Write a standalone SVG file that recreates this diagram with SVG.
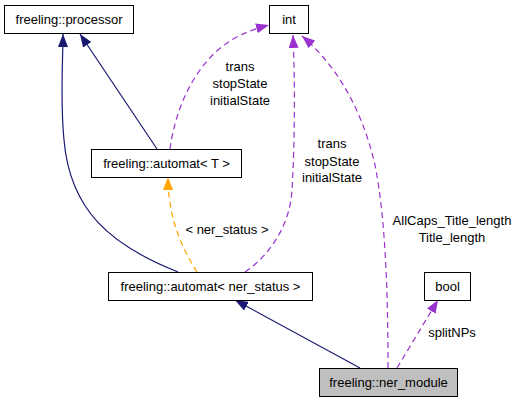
<svg xmlns="http://www.w3.org/2000/svg" width="519" height="403" viewBox="0 0 519 403">
<style>
.box{fill:#fff;stroke:#000;stroke-width:1}
text{font-family:"Liberation Sans",Arial,sans-serif;font-size:13px;fill:#000}
.c{text-anchor:middle}
.navy{fill:none;stroke:#191970;stroke-width:1.2}
.orange{fill:none;stroke:#ffa500;stroke-width:1.2;stroke-dasharray:6,4}
.purple{fill:none;stroke:#9a32cd;stroke-width:1.2;stroke-dasharray:6,4}
</style>
<defs>
<marker id="aN" markerUnits="userSpaceOnUse" markerWidth="13" markerHeight="10" refX="13" refY="5" orient="auto"><path d="M0,0 L13,5 L0,10 z" fill="#191970"/></marker>
<marker id="aO" markerUnits="userSpaceOnUse" markerWidth="13" markerHeight="10" refX="13" refY="5" orient="auto"><path d="M0,0 L13,5 L0,10 z" fill="#ffa500"/></marker>
<marker id="aP" markerUnits="userSpaceOnUse" markerWidth="13" markerHeight="10" refX="13" refY="5" orient="auto"><path d="M0,0 L13,5 L0,10 z" fill="#9a32cd"/></marker>
</defs>
<g id="connectors">
<path class="navy" d="M157,149 L80,34" marker-end="url(#aN)"/>
<path class="navy" d="M178,272 C110,245 70,210 64,140 C60,100 63,60 63,34" marker-end="url(#aN)"/>
<path class="orange" d="M197,272 C180,245 168,215 168,177" marker-end="url(#aO)"/>
<path class="purple" d="M170,149 C175,110 195,60 235,38 C248,31 258,28 269,25" marker-end="url(#aP)"/>
<path class="purple" d="M245,272 C270,255 290,225 292,190 C295,140 295,80 293,35" marker-end="url(#aP)"/>
<path class="purple" d="M388,368 C388,300 386,220 375,165 C360,100 330,60 302,36" marker-end="url(#aP)"/>
<path class="purple" d="M397,368 L438,300" marker-end="url(#aP)"/>
<path class="navy" d="M360,368 L235,300" marker-end="url(#aN)"/>
<text class="c" x="227" y="234">&lt; ner_status &gt;</text>
<text class="c" x="240" y="71">trans</text>
<text class="c" x="240" y="88">stopState</text>
<text class="c" x="240" y="105">initialState</text>
<text class="c" x="332" y="148">trans</text>
<text class="c" x="332" y="166">stopState</text>
<text class="c" x="332" y="182">initialState</text>
<text class="c" x="452" y="225">AllCaps_Title_length</text>
<text class="c" x="452" y="242">Title_length</text>
<text class="c" x="452" y="337">splitNPs</text>
</g>
<g id="processor"><rect class="box" x="4.5" y="5.5" width="129" height="28"/><text class="c" x="69" y="24">freeling::processor</text></g>
<g id="int"><rect class="box" x="269.5" y="5.5" width="39" height="28"/><text class="c" x="289" y="24">int</text></g>
<g id="automatT"><rect class="box" x="91.5" y="149.5" width="150" height="28"/><text class="c" x="166.5" y="168">freeling::automat&lt; T &gt;</text></g>
<g id="automatNer"><rect class="box" x="108.5" y="272.5" width="204" height="28"/><text class="c" x="210.5" y="291">freeling::automat&lt; ner_status &gt;</text></g>
<g id="bool"><rect class="box" x="424.5" y="272.5" width="46" height="28"/><text class="c" x="447.5" y="291">bool</text></g>
<g id="ner_module"><rect class="box" x="319.5" y="368.5" width="138" height="28" style="fill:#bfbfbf"/><text class="c" x="388.5" y="387">freeling::ner_module</text></g>
</svg>
